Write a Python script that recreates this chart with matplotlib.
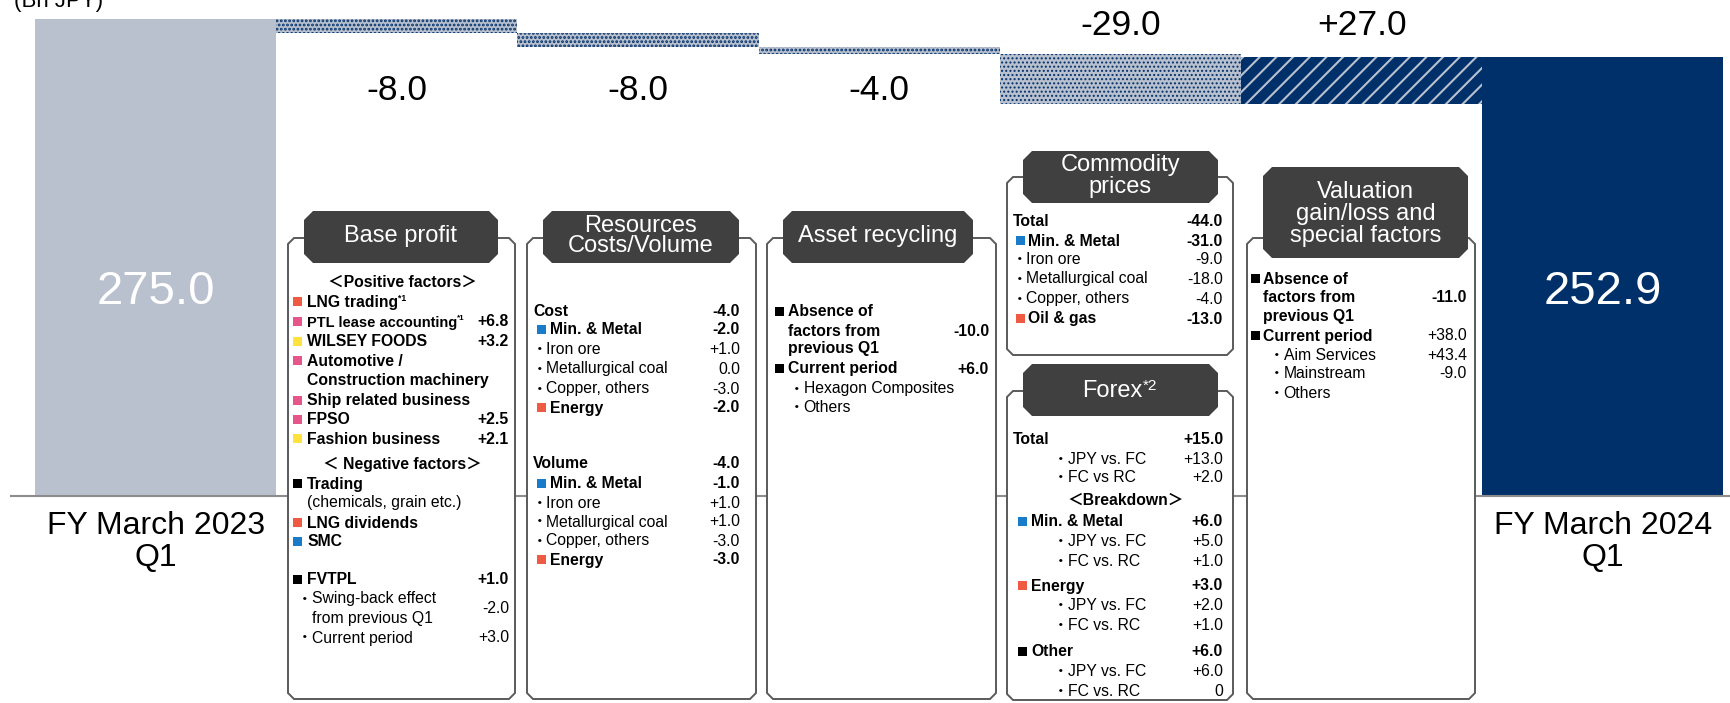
import numpy as np
import matplotlib.pyplot as plt
from matplotlib.patches import Polygon, Rectangle

plt.rcParams['font.family'] = ['Liberation Sans', 'Noto Sans CJK JP', 'DejaVu Sans']

# Net income bridge, Bn JPY
start_label = 'FY March 2023\nQ1'
end_label = 'FY March 2024\nQ1'
start_value = 275.0
end_value = 252.9
step_names = ['Base profit', 'Resources\nCosts/Volume', 'Asset recycling',
              'Commodity prices / Forex', 'Valuation gain/loss and\nspecial factors']
step_values = [-8.0, -8.0, -4.0, -29.0, 27.0]

# detail boxes: (kind, label, value, marker colour)
RED, PINK, YEL, BLUE, BLK = '#EF5A42', '#E6568A', '#FFE23D', '#1A7BC9', '#000000'

base_rows = [
    ('sec', '＜Positive factors＞', '', None),
    ('m', 'LNG trading^*1', '', RED),
    ('m', 'PTL lease accounting^*1', '+6.8', PINK),
    ('m', 'WILSEY FOODS', '+3.2', YEL),
    ('m', 'Automotive /', '', PINK),
    ('c', 'Construction machinery', '', None),
    ('m', 'Ship related business', '', PINK),
    ('m', 'FPSO', '+2.5', PINK),
    ('m', 'Fashion business', '+2.1', YEL),
    ('sec', '＜ Negative factors＞', '', None),
    ('m', 'Trading', '', BLK),
    ('n', '(chemicals, grain etc.)', '', None),
    ('m', 'LNG dividends', '', RED),
    ('m', 'SMC', '', BLUE),
    ('m', 'FVTPL', '+1.0', BLK),
    ('d', '・Swing-back effect', '-2.0', None),
    ('d2', 'from previous Q1', '', None),
    ('d', '・Current period', '+3.0', None),
]
resource_rows = [
    ('B', 'Cost', '-4.0', None),
    ('m', 'Min. & Metal', '-2.0', BLUE),
    ('d', '・Iron ore', '+1.0', None),
    ('d', '・Metallurgical coal', '0.0', None),
    ('d', '・Copper, others', '-3.0', None),
    ('m', 'Energy', '-2.0', RED),
    ('B', 'Volume', '-4.0', None),
    ('m', 'Min. & Metal', '-1.0', BLUE),
    ('d', '・Iron ore', '+1.0', None),
    ('d', '・Metallurgical coal', '+1.0', None),
    ('d', '・Copper, others', '-3.0', None),
    ('m', 'Energy', '-3.0', RED),
]
asset_rows = [
    ('m', 'Absence of', '', BLK),
    ('c', 'factors from', '-10.0', None),
    ('c', 'previous Q1', '', None),
    ('m', 'Current period', '+6.0', BLK),
    ('d', '・Hexagon Composites', '', None),
    ('d', '・Others', '', None),
]
commodity_rows = [
    ('B', 'Total', '-44.0', None),
    ('m', 'Min. & Metal', '-31.0', BLUE),
    ('d', '・Iron ore', '-9.0', None),
    ('d', '・Metallurgical coal', '-18.0', None),
    ('d', '・Copper, others', '-4.0', None),
    ('m', 'Oil & gas', '-13.0', RED),
]
forex_rows = [
    ('B', 'Total', '+15.0', None),
    ('d', '・JPY vs. FC', '+13.0', None),
    ('d', '・FC vs RC', '+2.0', None),
    ('sec', '＜Breakdown＞', '', None),
    ('m', 'Min. & Metal', '+6.0', BLUE),
    ('d', '・JPY vs. FC', '+5.0', None),
    ('d', '・FC vs. RC', '+1.0', None),
    ('m', 'Energy', '+3.0', RED),
    ('d', '・JPY vs. FC', '+2.0', None),
    ('d', '・FC vs. RC', '+1.0', None),
    ('m', 'Other', '+6.0', BLK),
    ('d', '・JPY vs. FC', '+6.0', None),
    ('d', '・FC vs. RC', '0', None),
]
valuation_rows = [
    ('m', 'Absence of', '', BLK),
    ('c', 'factors from', '-11.0', None),
    ('c', 'previous Q1', '', None),
    ('mr', 'Current period', '+38.0', BLK),
    ('d', '・Aim Services', '+43.4', None),
    ('d', '・Mainstream', '-9.0', None),
    ('d', '・Others', '', None),
]

# colours
LIGHT = '#B9C1CF'
NAVY = '#00306A'
HEADER = '#404040'
FRAME = '#5A5A5A'
AXIS = '#8C8C8C'

W, H = 1730, 703
BASE_PX, K = 496.0, 1.735      # pixel row of zero, pixels per Bn JPY
X0_PX, BAR_PX = 35.0, 241.2    # left edge of first bar, bar width in pixels

fig = plt.figure(figsize=(W / 100, H / 100), dpi=100)
ax = fig.add_axes([0, 0, 1, 1])
ax.axis('off')
ax.set_ylim(-(H - BASE_PX) / K, BASE_PX / K)
xl = -0.5 - X0_PX / BAR_PX
ax.set_xlim(xl, xl + W / BAR_PX)


def yv(py):
    return (BASE_PX - py) / K


# waterfall bars
ax.bar(0, start_value, width=1.0, color=LIGHT, lw=0)
ax.bar(len(step_values) + 1, end_value, width=1.0, color=NAVY, lw=0)

levels = start_value + np.cumsum([0.0] + step_values)
hatches = ['....', '....', '....', '....', '//']
faces = [LIGHT, LIGHT, LIGHT, LIGHT, NAVY]
hcols = [NAVY, NAVY, NAVY, NAVY, LIGHT]
hlws = [1.35, 1.35, 1.35, 0.95, 1.5]
for i, v in enumerate(step_values):
    lo = min(levels[i], levels[i + 1])
    with plt.rc_context({'hatch.linewidth': hlws[i]}):
        bars = ax.bar(i + 1, abs(v), bottom=lo, width=1.0, facecolor=faces[i],
                      edgecolor=hcols[i], hatch=hatches[i], lw=0)
    for b in bars:
        if hasattr(b, 'set_hatch_linewidth'):
            b.set_hatch_linewidth(hlws[i])

# step labels
label_px = [100, 100, 100, 35, 35]
for i, v in enumerate(step_values):
    ax.text(i + 1, yv(label_px[i]), f'{v:+.1f}', ha='center', va='baseline',
            fontsize=25.5, color='black')

ax.text(0, yv(304), f'{start_value:.1f}', ha='center', va='baseline',
        fontsize=34, color='white')
ax.text(len(step_values) + 1, yv(304), f'{end_value:.1f}', ha='center',
        va='baseline', fontsize=34, color='white')

for xi, lab in [(0, start_label), (len(step_values) + 1, end_label)]:
    for j, line in enumerate(lab.split('\n')):
        ax.text(xi, yv(534.5 + 32 * j), line, ha='center', va='baseline',
                fontsize=23, color='black')

ax.axhline(0, xmin=11 / W, xmax=1, color=AXIS, lw=1.5, zorder=4)
ax.text(xl + 14 / BAR_PX, yv(7), '(Bn JPY)', ha='left', va='baseline',
        fontsize=16, color='black')

# detail boxes drawn in pixel coordinates
ov = fig.add_axes([0, 0, 1, 1], zorder=3)
ov.set_xlim(0, W)
ov.set_ylim(H, 0)
ov.axis('off')
renderer = fig.canvas.get_renderer()


def chamfer(x0, x1, y0, y1, c):
    return [(x0 + c, y0), (x1 - c, y0), (x1, y0 + c), (x1, y1 - c),
            (x1 - c, y1), (x0 + c, y1), (x0, y1 - c), (x0, y0 + c)]


FS = 11.3


def put(x, y, s, bold, ha='left', color='black', fs=FS, sup_fs=0.55):
    sup = None
    if '^' in s:
        s, sup = s.split('^')
    parts = [ov.text(x, y, s, ha=ha, va='baseline', fontsize=fs, color=color,
                     fontweight='bold' if bold else 'normal', zorder=5)]
    if sup:
        parts.append(ov.annotate(sup, xy=(1, 1), xycoords=parts[0],
                                 xytext=(0, 0.5), textcoords='offset points',
                                 ha='left', va='top', fontsize=fs * sup_fs,
                                 color=color, zorder=5,
                                 fontweight='bold' if bold else 'normal'))
    return parts


def fit_before(parts, limit):
    # shrink a label that would run into its value
    right = max(p.get_window_extent(renderer).x1 for p in parts)
    left = parts[0].get_window_extent(renderer).x0
    if right > limit:
        scale = (limit - left) / (right - left)
        for p in parts:
            p.set_fontsize(p.get_fontsize() * scale)


def bullet(x, y, s):
    ov.text(x, y, '・', ha='center', va='baseline', fontsize=FS, zorder=5)
    return [ov.text(x + 6.5, y, s.lstrip('・'), ha='left', va='baseline',
                    fontsize=FS, zorder=5)]


def draw_box(lay, rows):
    L, R, T, B = lay['frame']
    ov.add_patch(Polygon(chamfer(L, R, T, B, 6), closed=True, facecolor='white',
                         edgecolor=FRAME, lw=1.4, zorder=2))
    hx0, hx1, hy0, hy1 = lay['header']
    ov.add_patch(Polygon(chamfer(hx0, hx1, hy0, hy1, 9), closed=True,
                         facecolor=HEADER, edgecolor='none', zorder=3))
    title = lay['title']
    if '^' in title:
        put((hx0 + hx1) / 2 - 8, lay['title_y'] + 8, title, False,
            ha='center', color='white', fs=17, sup_fs=0.65)
    else:
        ov.text((hx0 + hx1) / 2, lay['title_y'], title, ha='center', va='center',
                fontsize=17, color='white', linespacing=lay.get('ls', 1.0),
                zorder=4)
    for k, ((kind, label, value, col), y) in enumerate(zip(rows, lay['rows'])):
        base = y + 5.5
        parts = None
        if kind == 'sec':
            put(lay['sec_x'], base, label, True, ha='center')
        elif kind == 'B':
            parts = put(lay['px'], base, label, True)
        elif kind in ('m', 'mr'):
            ov.add_patch(Rectangle((lay['mk'], y - 4.5), 9, 9, facecolor=col,
                                   edgecolor='none', zorder=4))
            parts = put(lay['mt'], base, label, True)
        elif kind == 'c':
            parts = put(lay['mt'], base, label, True)
        elif kind == 'n':
            parts = put(lay['mt'], base, label, False)
        elif kind == 'd':
            parts = bullet(lay['dot'], base, label)
        elif kind == 'd2':
            parts = put(lay['dot'] + 6.5, base, label, False)
        if value:
            shift = 0
            if k + 1 < len(rows) and rows[k + 1][0] == 'd2':
                shift = (lay['rows'][k + 1] - y) / 2
            vt = put(lay['vx'], base + shift, value, kind in ('B', 'm', 'c'),
                     ha='right')[0]
            if parts:
                fit_before(parts, vt.get_window_extent(renderer).x0 - 12)


layouts = [
    (dict(frame=(288, 515, 238, 699), header=(304, 498, 211, 263),
          title=step_names[0], title_y=236, px=293, mk=293, mt=307, dot=305,
          vx=509, sec_x=402,
          rows=[281, 301, 321, 341, 360, 380, 400, 419, 438, 463, 483, 502,
                522, 541, 579, 598, 617, 637]), base_rows),
    (dict(frame=(527, 756, 238, 699), header=(543, 739, 211, 263),
          title=step_names[1], title_y=236, ls=0.92, px=533, mk=537, mt=550,
          dot=540, vx=740,
          rows=[311, 329, 348, 368, 388, 407, 463, 483, 502, 521, 540, 559]),
     resource_rows),
    (dict(frame=(767, 996, 238, 699), header=(783, 973, 211, 263),
          title=step_names[2], title_y=236, mk=775, mt=788, dot=797, vx=989,
          rows=[311, 330, 348, 368, 388, 407]), asset_rows),
    (dict(frame=(1007, 1233, 177, 355), header=(1023, 1218, 151, 203),
          title='Commodity\nprices', title_y=176, px=1013, mk=1016, mt=1028,
          dot=1020, vx=1223,
          rows=[221, 240, 259, 278, 298, 318]), commodity_rows),
    (dict(frame=(1007, 1233, 391, 700), header=(1023, 1218, 364, 416),
          title='Forex^*2', title_y=389, px=1013, mk=1018, mt=1031, dot=1061,
          vx=1223, sec_x=1126,
          rows=[438, 458, 477, 499, 521, 541, 560, 585, 604, 624, 651, 670,
                690]), forex_rows),
    (dict(frame=(1247, 1475, 238, 699), header=(1263, 1468, 167, 258),
          title='Valuation\ngain/loss and\nspecial factors', title_y=214,
          mk=1251, mt=1263, dot=1277, vx=1467,
          rows=[278, 297, 316, 335, 354, 373, 393]), valuation_rows),
]
for lay, rows in layouts:
    draw_box(lay, rows)

fig.savefig('out.png', dpi=100)
